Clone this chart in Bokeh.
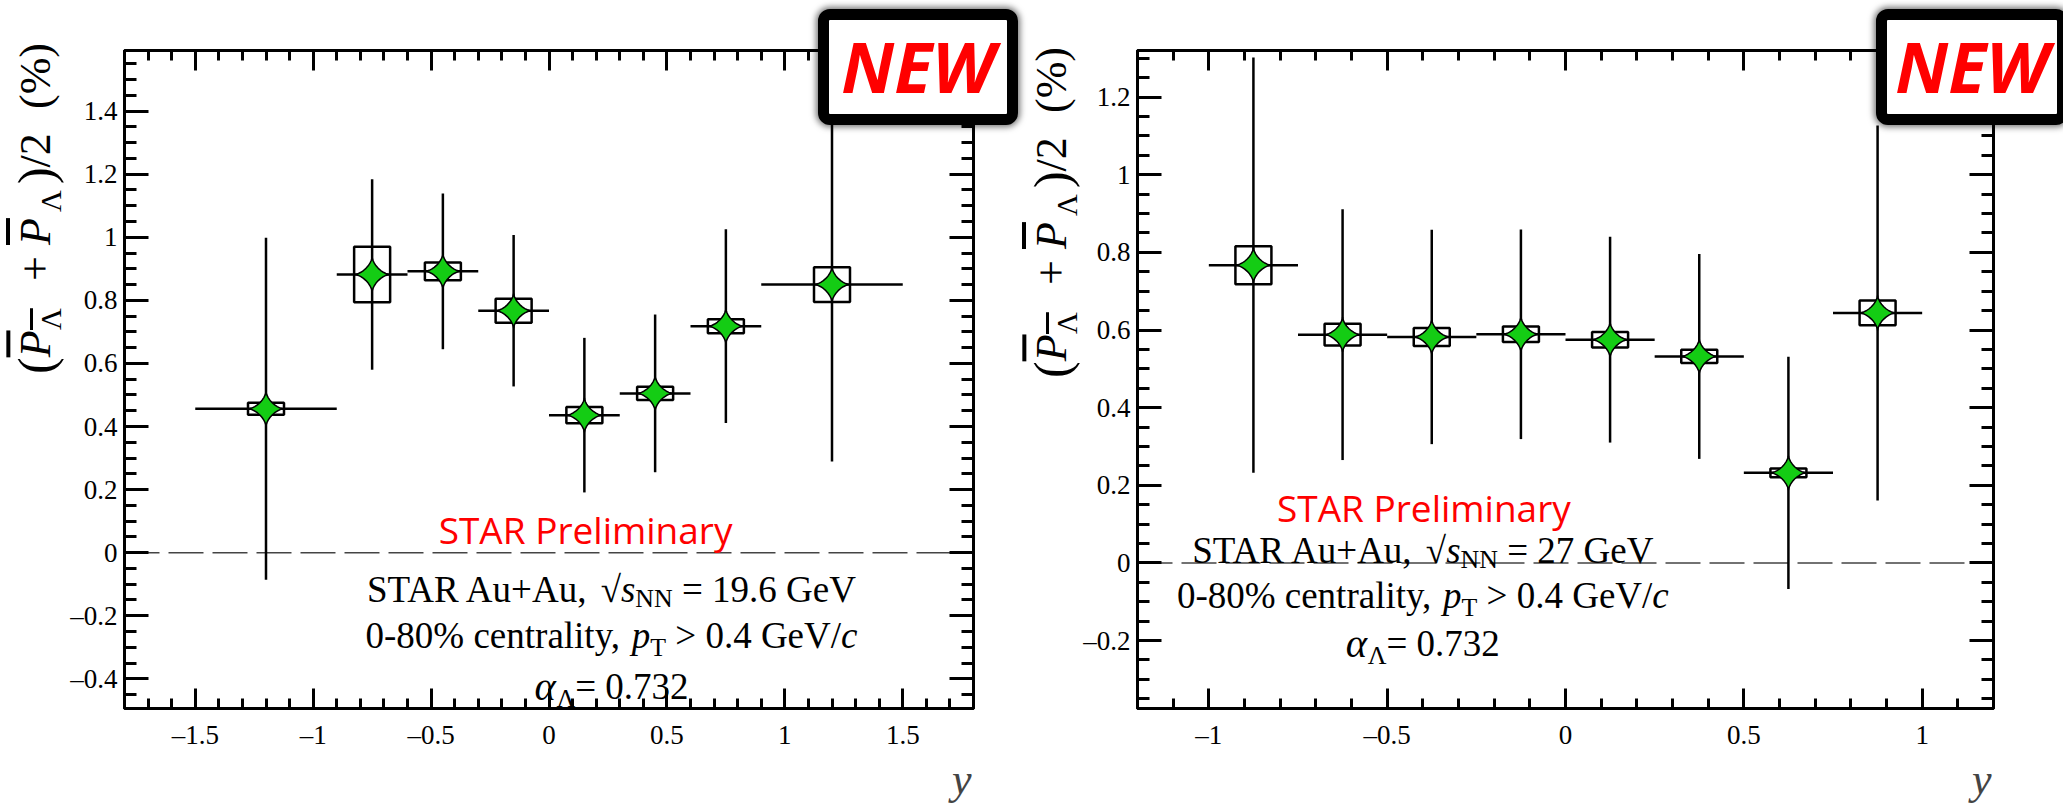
import numpy as np
from bokeh.plotting import figure
from bokeh.layouts import row
from bokeh.models import (Label, Span, LinearAxis, CustomJSTickFormatter, Range1d, Div,
                          ColumnDataSource, SingleIntervalTicker, Title, CustomLabelingPolicy)
from bokeh.embed import file_html
from bokeh.resources import INLINE

# ---------------- data: 19.6 GeV ----------------
rap_196 = [-1.2, -0.75, -0.45, -0.15, 0.15, 0.45, 0.75, 1.2]
bin_lo_196 = [-1.5, -0.9, -0.6, -0.3, 0.0, 0.3, 0.6, 0.9]
bin_hi_196 = [-0.9, -0.6, -0.3, 0.0, 0.3, 0.6, 0.9, 1.5]
pol_196 = [0.456, 0.882, 0.892, 0.767, 0.436, 0.505, 0.718, 0.850]
stat_196 = [0.542, 0.302, 0.247, 0.240, 0.245, 0.250, 0.307, 0.561]
sys_196 = [0.019, 0.088, 0.028, 0.038, 0.026, 0.021, 0.022, 0.055]

# ---------------- data: 27 GeV ----------------
rap_27 = [-0.875, -0.625, -0.375, -0.125, 0.125, 0.375, 0.625, 0.875]
bin_lo_27 = [-1.0, -0.75, -0.5, -0.25, 0.0, 0.25, 0.5, 0.75]
bin_hi_27 = [-0.75, -0.5, -0.25, 0.0, 0.25, 0.5, 0.75, 1.0]
pol_27 = [0.767, 0.588, 0.582, 0.589, 0.575, 0.532, 0.232, 0.644]
stat_27 = [0.535, 0.323, 0.276, 0.270, 0.265, 0.264, 0.299, 0.483]
sys_27 = [0.049, 0.028, 0.023, 0.020, 0.020, 0.017, 0.011, 0.032]

SERIF = "Liberation Serif"
TW = {' ': 250, '%': 833, '(': 333, ')': 333, '+': 564, ',': 250, '-': 333, '.': 250,
      '/': 278, '=': 564, '>': 564, 'A': 722, 'G': 722, 'N': 722, 'R': 667, 'S': 556,
      'T': 611, 'V': 722, 'a': 444, 'c': 444, 'e': 444, 'i': 278, 'l': 278, 'n': 500,
      'r': 333, 't': 278, 'u': 500, 'y': 500, 'Λ': 722, 'α': 540, '√': 549, 'P': 611,
      's': 389, 'p': 500}


def tw(s, size):
    return sum(TW.get(ch, 500) for ch in s) / 1000.0 * size


def rich(p, x, y, pieces, base=37, color="black"):
    widths = [tw(t, base * s) for (t, s, dy, st) in pieces]
    off = -sum(widths) / 2.0
    for (t, s, dy, st), w in zip(pieces, widths):
        lead = len(t) - len(t.lstrip(" "))
        txt = t.strip(" ")
        p.add_layout(Label(x=x, y=y, text=txt, x_offset=off + tw(" " * lead, base * s),
                           y_offset=dy, text_align="left", text_baseline="alphabetic",
                           text_font=SERIF, text_font_size=f"{base * s:.1f}px",
                           text_font_style=st, text_color=color))
        off += w


SUB = "font-size:30px;position:relative;left:-15px;"
YLAB_HTML = (
    '<span style="font-size:50px">(</span>'
    '<i style="text-decoration:overline">P</i>'
    f'<span style="{SUB}text-decoration:overline">Λ</span>'
    '<span style="margin-inline-start:28px">+</span>'
    '<i style="margin-inline-start:11px;text-decoration:overline">P</i>'
    f'<span style="{SUB}margin-inline-start:6px">Λ</span>'
    '<span style="font-size:50px;margin-inline-start:6px">)</span>/2'
    '<span style="margin-inline-start:24px">(%)</span>')


def ylabel_div(left, top):
    return Div(text=YLAB_HTML, width=64, height=345, styles={
        "position": "absolute", "left": f"{left}px", "top": f"{top}px", "z-index": "5",
        "writing-mode": "vertical-rl", "transform": "rotate(180deg)",
        "font-family": SERIF, "font-size": "44px", "line-height": "62px",
        "color": "black", "white-space": "nowrap", "text-align": "start",
        "overflow": "visible"})


def badge(left, top, w):
    return Div(text="NEW", width=w, height=116, styles={
        "position": "absolute", "left": f"{left}px", "top": f"{top}px", "z-index": "10",
        "box-sizing": "border-box", "border": "11px solid black", "border-radius": "12px",
        "background-color": "white", "box-shadow": "0 0 6px 2px rgba(0,0,0,0.55)",
        "color": "#ff0000", "font-family": "Open Sans", "font-weight": "bold",
        "font-style": "italic", "font-size": "70px", "line-height": "92px",
        "text-align": "center", "overflow": "hidden"})


def make_panel(W, H, bl, br, bt, bb, xr, yr, rap, lo, hi, pol, stat, sys_, energy,
               prelim_xy, lines_xy):
    p = figure(width=W, height=H, x_range=Range1d(*xr), y_range=Range1d(*yr),
               output_backend="svg", toolbar_location=None,
               min_border_left=bl, min_border_right=br, min_border_top=bt,
               min_border_bottom=bb)
    p.xgrid.visible = False
    p.ygrid.visible = False
    p.outline_line_color = "black"
    p.outline_line_width = 3
    p.background_fill_color = "white"
    p.border_fill_color = "white"

    fw = W - bl - br
    fh = H - bt - bb
    ppx = fw / (xr[1] - xr[0])
    ppy = fh / (yr[1] - yr[0])

    fmt = CustomJSTickFormatter(code="""
        const v = Math.round(tick*100)/100;
        return (v < 0 ? '\u2013' : '') + Math.abs(v).toString();""")
    xt = SingleIntervalTicker(interval=0.5, num_minor_ticks=5)
    yt = SingleIntervalTicker(interval=0.2, num_minor_ticks=4)

    def style(ax, is_x, labels=True):
        ax.axis_line_width = 3
        ax.major_tick_line_width = 3
        ax.minor_tick_line_width = 3
        ax.major_tick_out = 0
        ax.minor_tick_out = 0
        ax.major_tick_in = 20 if is_x else 24
        ax.minor_tick_in = 10 if is_x else 12
        ax.major_label_text_font = SERIF
        ax.major_label_text_font_size = "27px"
        ax.major_label_text_color = "black"
        ax.major_label_standoff = 11 if is_x else 7
        ax.axis_label = None
        if not labels:
            ax.major_label_policy = CustomLabelingPolicy(code="return new Set()")

    p.xaxis.ticker = xt
    p.yaxis.ticker = yt
    p.xaxis.formatter = fmt
    p.yaxis.formatter = fmt
    style(p.xaxis[0], True)
    style(p.yaxis[0], False)
    top = LinearAxis(ticker=xt, formatter=fmt)
    style(top, True, False)
    p.add_layout(top, "above")
    right = LinearAxis(ticker=yt, formatter=fmt)
    style(right, False, False)
    p.add_layout(right, "right")

    p.add_layout(Title(text="y", align="right", text_font=SERIF, text_font_style="italic",
                       text_font_size="44px", standoff=0, offset=2), "below")

    p.add_layout(Span(location=0, dimension="width", line_color="#444444",
                      line_width=1.5, line_dash="35 9", level="underlay"))

    src = ColumnDataSource(dict(
        x=rap, lo=lo, hi=hi, y=pol,
        ylo=[a - b for a, b in zip(pol, stat)], yhi=[a + b for a, b in zip(pol, stat)],
        sh=[2 * s for s in sys_]))
    p.rect(x="x", y="y", width=36, height="sh", width_units="screen", source=src,
           fill_alpha=0, line_color="black", line_width=2.5)
    p.segment(x0="x", y0="ylo", x1="x", y1="yhi", source=src, line_color="black",
              line_width=2.5)
    p.segment(x0="lo", y0="y", x1="hi", y1="y", source=src, line_color="black",
              line_width=2.5)

    t = np.linspace(0, 2 * np.pi, 48, endpoint=False)
    r = 17.5
    xs = [list(xc + r * np.cos(t) ** 3 / ppx) for xc in rap]
    ys = [list(yc + r * np.sin(t) ** 3 / ppy) for yc in pol]
    p.patches(xs, ys, fill_color="#14cc14", line_color="black", line_width=1.5)

    p.add_layout(Label(x=prelim_xy[0], y=prelim_xy[1], text="STAR Preliminary",
                       text_align="center", text_baseline="alphabetic",
                       text_font="Open Sans", text_font_size="37px", text_color="#ff0000"))
    cx = lines_xy[0]
    rich(p, cx, lines_xy[1], [("STAR Au+Au, ", 1, 0, "normal"), ("√", 1, 0, "normal"),
                              ("s", 1, 0, "italic"), ("NN", 0.7, -9, "normal"),
                              (f" = {energy} GeV", 1, 0, "normal")])
    rich(p, cx, lines_xy[2], [("0-80% centrality, ", 1, 0, "normal"), ("p", 1, 0, "italic"),
                              ("T", 0.7, -12, "normal"), (" > 0.4 GeV/", 1, 0, "normal"),
                              ("c", 1, 0, "italic")])
    rich(p, cx, lines_xy[3], [("α", 1.1, 0, "italic"), ("Λ", 0.7, -12, "normal"),
                              ("= 0.732", 1, 0, "normal")])
    return p


p1 = make_panel(1030, 810, 124, 50, 50, 96, (-1.8, 1.8), (-0.494, 1.592),
                rap_196, bin_lo_196, bin_hi_196, pol_196, stat_196, sys_196, "19.6",
                (0.155, 0.075), (0.265, -0.117, -0.262, -0.424))
p2 = make_panel(1033, 810, 107, 70, 46, 102, (-1.2, 1.2), (-0.375, 1.32),
                rap_27, bin_lo_27, bin_hi_27, pol_27, stat_27, sys_27, "27",
                (-0.397, 0.142), (-0.40, 0.033, -0.083, -0.208))

lay = row(p1, p2, ylabel_div(0, 24), ylabel_div(1016, 28),
          badge(813, 4, 200), badge(1871, 4, 192))
open("out.html", "w").write(file_html(lay, INLINE))
